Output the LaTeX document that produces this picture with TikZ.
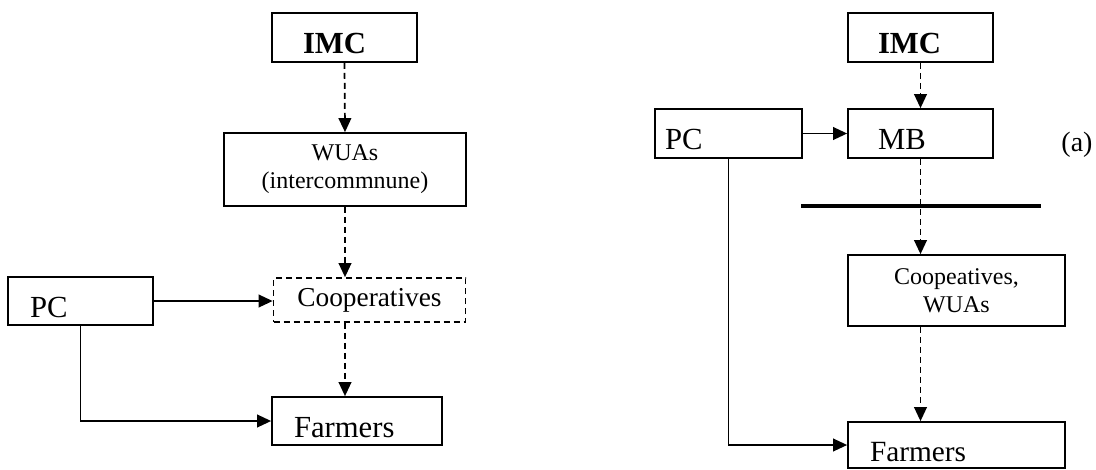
\documentclass[tikz,border=0pt]{standalone}
\usepackage{fontspec}
\setmainfont{Liberation Serif}
\usepackage{tikz}
\usetikzlibrary{arrows.meta, positioning, calc}

\begin{document}
\begin{tikzpicture}[x=0.75pt, y=-0.75pt,
        bigbox/.style={
                draw,
                line width=1.3pt,
                inner ysep=0pt,
                text height=24pt,
                text depth=0pt,
                align=left,
                font=\fontsize{23}{25}\selectfont,
        },
        midbox/.style={
                draw,
                line width=1.3pt,
                inner sep=0pt,
                align=center,
                font=\fontsize{18}{21}\selectfont,
        },
        flow/.style={line width=1.3pt, -{Triangle[length=10.5pt, width=9.5pt]}},
        dflow/.style={flow, dash pattern=on 4.5pt off 3pt},
        ]
            \useasboundingbox (0, 0) rectangle (1096, 469);

            % left: intercommune
            \node[bigbox, text width=62.25pt, inner xsep=23.25pt, minimum height=36.75pt] (imcL) at (344.5, 37.5) {\textbf{IMC}};
            \node[midbox, minimum width=181.5pt, minimum height=54.75pt] (wuaL) at (345, 169.5) {WUAs\\(intercommnune)};
            \node[midbox, dash pattern=on 4.5pt off 3pt, minimum width=144pt, minimum height=33pt, font=\fontsize{20.5}{22}\selectfont] (coopL) at (369.5, 300) {Cooperatives};
            \node[bigbox, text width=75.75pt, inner xsep=16.5pt, minimum height=36pt] (pcL) at (80.5, 301) {PC};
            \node[bigbox, text width=94.5pt, inner xsep=16.5pt, minimum height=36pt] (farmL) at (357, 421) {Farmers};

            \draw[dflow] (imcL.south) -- (wuaL.north);
            \draw[dflow] (wuaL.south) -- (wuaL.south |- coopL.north);
            \draw[dflow] (wuaL.south |- coopL.south) -- (wuaL.south |- farmL.north);
            \draw[flow] (pcL.east) -- (pcL.east -| coopL.west);
            \draw[flow] (pcL.south) |- (farmL.west);

            % right: (a)
            \node[bigbox, text width=63.75pt, inner xsep=22.5pt, minimum height=36.75pt] (imcR) at (920.5, 37.5) {\textbf{IMC}};
            \node[bigbox, text width=63.75pt, inner xsep=22.5pt, minimum height=36.75pt] (mbR) at (920.5, 133.5) {MB};
            \node[bigbox, text width=95.25pt, inner xsep=7.5pt, minimum height=36.75pt] (pcR) at (728.5, 133.5) {PC};
            \node[midbox, minimum width=162.75pt, minimum height=53.25pt] (coopR) at (956.5, 290.5) {Coopeatives,\\WUAs};
            \node[bigbox, text width=129.75pt, inner xsep=16.5pt, minimum height=34.5pt, font=\fontsize{22}{24}\selectfont] (farmR) at (956.5, 445) {Farmers};
            \node[font=\fontsize{21}{23}\selectfont] (tagA) at (1077, 145) {(a)};

            \coordinate (barL) at (801, 206);
            \coordinate (barR) at (1041, 206);
            \draw[line width=2.4pt] (barL) -- (barR);

            \draw[dflow] (imcR.south) -- (mbR.north);
            \draw[dflow] (mbR.south) -- (mbR.south |- coopR.north);
            \draw[dflow] (mbR.south |- coopR.south) -- (mbR.south |- farmR.north);
            \draw[flow] (pcR.east) -- (mbR.west);
            \draw[flow] (pcR.south) |- (farmR.west);
\end{tikzpicture}
\end{document}
